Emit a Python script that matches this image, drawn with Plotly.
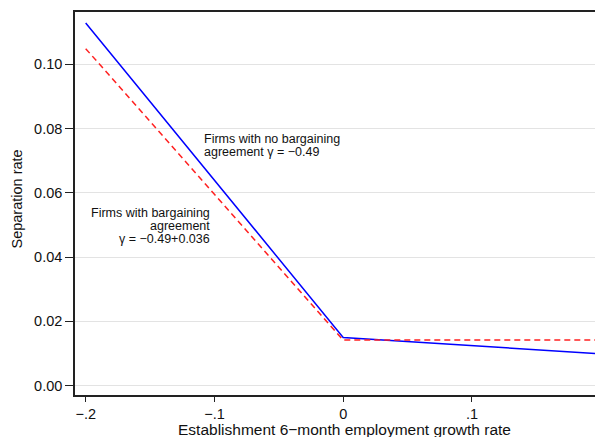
import plotly.graph_objects as go

growth = [-0.2, 0.0, 0.2]
sep_no_agreement = [0.1129, 0.0150, 0.0099]
sep_agreement = [0.1049, 0.0142, 0.0142]

x_tickvals = [-0.2, -0.1, 0.0, 0.1, 0.2]
x_ticktext = ["\u2212.2", "\u2212.1", "0", ".1", ".2"]
y_tickvals = [0.0, 0.02, 0.04, 0.06, 0.08, 0.10]
y_ticktext = ["0.00", "0.02", "0.04", "0.06", "0.08", "0.10"]

x_title = "Establishment 6\u2212month employment growth rate"
y_title = "Separation rate"
note_no_agreement = ["Firms with no bargaining", "agreement \u03b3 = \u22120.49"]
note_agreement = ["Firms with bargaining", "agreement", "\u03b3 = \u22120.49+0.036"]

font = "Liberation Sans, Arial, Helvetica, sans-serif"
txt = "#111111"

fig = go.Figure()
fig.add_trace(go.Scatter(x=growth, y=sep_no_agreement, mode="lines",
                         line=dict(color="#0000ff", width=1.5), showlegend=False))
fig.add_trace(go.Scatter(x=growth, y=sep_agreement, mode="lines",
                         line=dict(color="#ff2020", width=1.5, dash="6px,4px"), showlegend=False))

# text notes, one annotation per line
for text, yy in zip(note_no_agreement, [0.07675, 0.0727]):
    fig.add_annotation(x=-0.1100, y=yy, xref="x", yref="y", text=text,
                       showarrow=False, xanchor="left", yanchor="middle",
                       font=dict(family=font, size=12.5, color=txt))
for text, yy in zip(note_agreement, [0.05366, 0.04961, 0.04557]):
    fig.add_annotation(x=-0.1020, y=yy, xref="x", yref="y", text=text,
                       showarrow=False, xanchor="right", yanchor="middle",
                       font=dict(family=font, size=12.5, color=txt))

# axis titles
fig.add_annotation(x=0.5095, y=-0.0888, xref="paper", yref="paper", text=x_title,
                   showarrow=False, xanchor="center", yanchor="middle",
                   font=dict(family=font, size=15.5, color=txt))
fig.add_annotation(x=-0.1089, y=0.5117, xref="paper", yref="paper", text=y_title,
                   showarrow=False, xanchor="center", yanchor="middle", textangle=-90,
                   font=dict(family=font, size=14.5, color=txt))

# the page body has an 8px default margin, so the figure is sized to fit it
fig.update_layout(
    width=595, height=429,
    margin=dict(l=67, r=0, t=4, b=42, autoexpand=False),
    paper_bgcolor="white", plot_bgcolor="white",
    font=dict(family=font, size=14.5, color=txt),
    xaxis=dict(range=[-0.2083, 0.2018], tickvals=x_tickvals, ticktext=x_ticktext,
               showgrid=False, zeroline=False, showline=True, linecolor="#222222",
               linewidth=1.5, mirror=True, ticks="outside", ticklen=5, tickcolor="#222222",
               automargin=False, ticklabeloverflow="allow"),
    yaxis=dict(range=[-0.0029, 0.1163], tickvals=y_tickvals, ticktext=y_ticktext,
               showgrid=True, gridcolor="#e3e3e3", gridwidth=1, zeroline=False,
               showline=True, linecolor="#222222", linewidth=1.5, ticks="outside",
               ticklen=8, tickcolor="#222222", automargin=False),
)

fig.write_html("out.html")
